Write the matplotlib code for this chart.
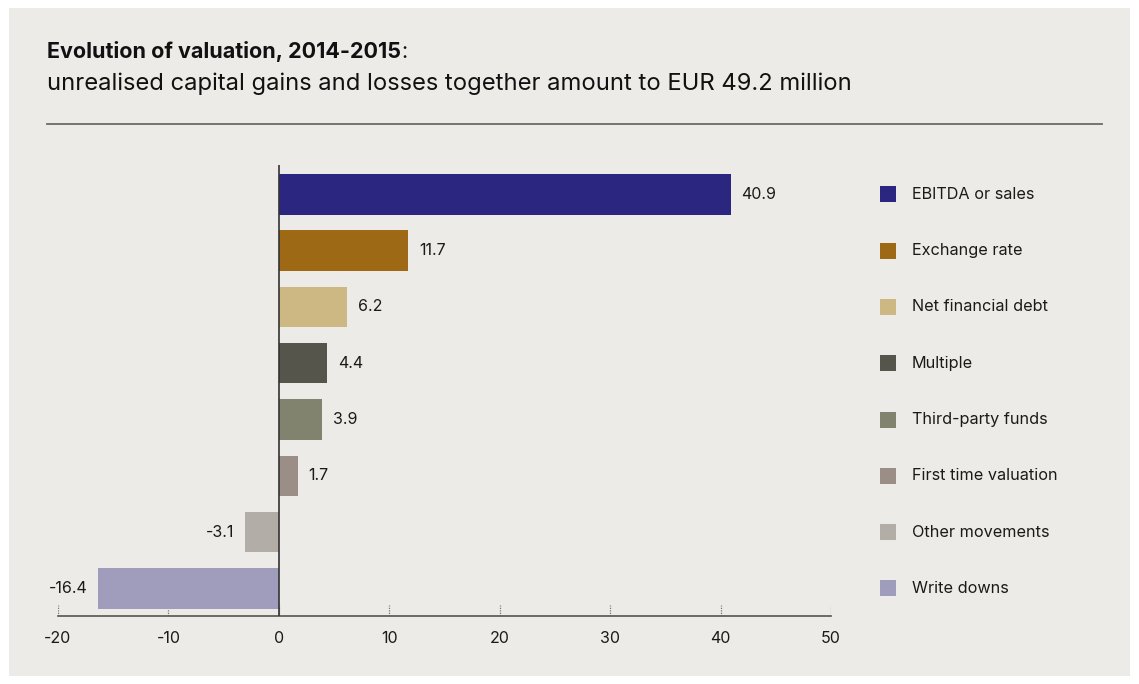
import matplotlib.pyplot as plt
from matplotlib.patches import Rectangle

categories = ["EBITDA or sales", "Exchange rate", "Net financial debt", "Multiple",
              "Third-party funds", "First time valuation", "Other movements", "Write downs"]
values = [40.9, 11.7, 6.2, 4.4, 3.9, 1.7, -3.1, -16.4]
colors = ["#2B2780", "#9E6914", "#CDB883", "#55554B",
          "#82836F", "#9A8E86", "#B2ADA7", "#A09CBC"]
x_ticks = [-20, -10, 0, 10, 20, 30, 40, 50]

BG = "#ECEBE7"
W, H = 1139, 684
ROW = 56.3  # pixel spacing between bars / legend rows

plt.rcParams['font.family'] = ['Inter', 'DejaVu Sans']

fig = plt.figure(figsize=(W / 100, H / 100), dpi=100)
fig.patch.set_facecolor("white")
# grey panel inside a thin white border
fig.patches.append(Rectangle((9 / W, 8 / H), (W - 18) / W, (H - 16) / H,
                             transform=fig.transFigure, facecolor=BG,
                             edgecolor="none", zorder=-5))

# titles and rule
t = fig.text(47 / W, 1 - 52 / H, "Evolution of valuation, 2014-2015", fontsize=15.5,
             fontweight="bold", color="#111111", va="center", ha="left")
fig.canvas.draw()
bb = t.get_window_extent()
fig.text(bb.x1 / W, 1 - 52 / H, ":", fontsize=15.5, color="#111111",
         va="center", ha="left")
fig.text(47 / W, 1 - 84 / H,
         "unrealised capital gains and losses together amount to EUR 49.2 million",
         fontsize=17.1, color="#111111", va="center", ha="left")
fig.lines.append(plt.Line2D([47 / W, 1102 / W], [1 - 124 / H, 1 - 124 / H],
                            transform=fig.transFigure, color="#6B6B66", lw=1.3))

# plot area: x from -20 (px 58) to 50 (px 831), y from px 165 to 616
left, right, top, bottom = 58, 831, 165, 616
ax = fig.add_axes([left / W, 1 - bottom / H, (right - left) / W, (bottom - top) / H])
ax.set_facecolor("none")

ypos = list(range(len(values)))
ax.barh(ypos, values, height=0.72, color=colors, zorder=2)
ax.set_xlim(-20, 50)
ax.set_ylim((bottom - 194.3) / ROW, -(194.3 - top) / ROW)

for y, v in zip(ypos, values):
    if v >= 0:
        ax.text(v + 1.0, y, f"{v}", va="center", ha="left", fontsize=11.5, color="#1A1A1A")
    else:
        ax.text(v - 0.9, y, f"{v}", va="center", ha="right", fontsize=11.5, color="#1A1A1A")

ax.axvline(0, color="#333333", lw=1.2, zorder=3)

for s in ["top", "right", "left"]:
    ax.spines[s].set_visible(False)
ax.spines["bottom"].set_color("#555550")
ax.spines["bottom"].set_linewidth(1.2)
ax.set_yticks([])
ax.set_xticks(x_ticks)
ax.set_xticklabels([str(t) for t in x_ticks], fontsize=11.5, color="#1A1A1A")
ax.tick_params(axis="x", length=0, pad=11)
# small dotted tick marks standing on the axis
ax.vlines(x_ticks, 0, 11 / (bottom - top), transform=ax.get_xaxis_transform(),
          colors="#777772", linestyles=(0, (1, 1)), lw=0.9, zorder=1)

# legend on the right
for i, (name, c) in enumerate(zip(categories, colors)):
    yc = 1 - (194.3 + ROW * i) / H
    fig.patches.append(Rectangle((880 / W, yc - 8 / H), 16 / W, 16 / H,
                                 transform=fig.transFigure, facecolor=c,
                                 edgecolor="none", zorder=2))
    fig.text(912 / W, yc, name, fontsize=11.7, color="#1A1A1A", va="center", ha="left")

fig.savefig("out.png", dpi=100, facecolor=fig.get_facecolor())
